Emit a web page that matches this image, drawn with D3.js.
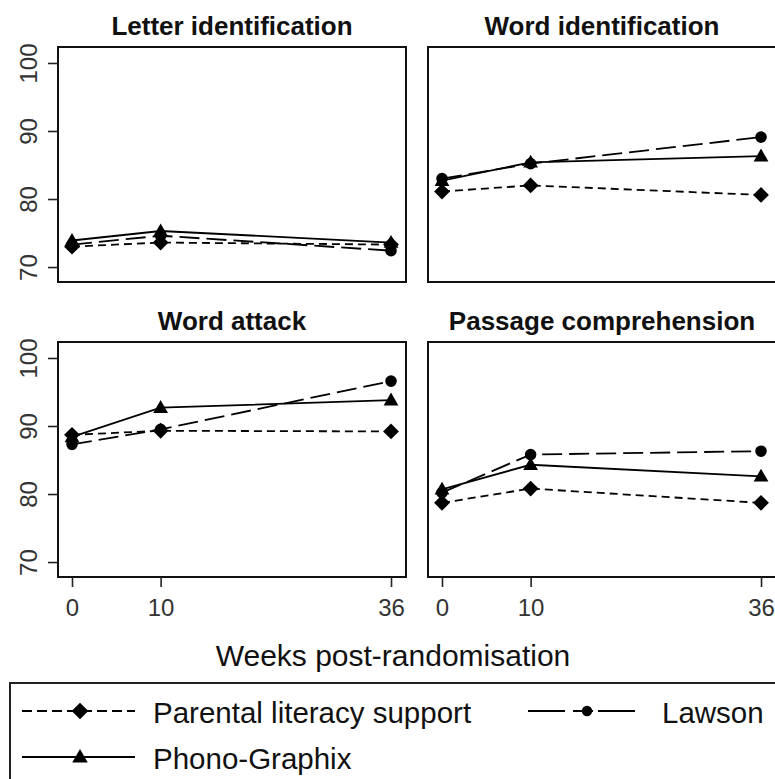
<!DOCTYPE html>
<html>
<head>
<meta charset="utf-8">
<script src="https://cdn.jsdelivr.net/npm/d3@7"></script>
<style>
  html, body { margin: 0; padding: 0; background: #fff; }
  svg { display: block; font-family: "Liberation Sans", Arial, Helvetica, sans-serif; }
</style>
</head>
<body>
<svg id="chart" width="775" height="779"></svg>
<script>
// ---------------- data ----------------
const weeks = [0, 10, 36];
const panelTitles = ["Letter identification", "Word identification", "Word attack", "Passage comprehension"];
const seriesNames = ["Parental literacy support", "Lawson", "Phono-Graphix"];
const yTicks = [70, 80, 90, 100];
const xTicks = [0, 10, 36];

const parental = [
  [73.0, 73.6, 73.3],   // Letter identification
  [81.1, 82.0, 80.6],   // Word identification
  [88.7, 89.3, 89.2],   // Word attack
  [78.7, 80.8, 78.7]    // Passage comprehension
];
const lawson = [
  [73.3, 74.6, 72.4],
  [83.0, 85.2, 89.1],
  [87.3, 89.5, 96.6],
  [80.2, 85.8, 86.3]
];
const phono = [
  [73.9, 75.3, 73.6],
  [82.7, 85.4, 86.3],
  [88.4, 92.7, 93.8],
  [80.7, 84.3, 82.6]
];

// ---------------- layout ----------------
const svg = d3.select("#chart");
const panelW = 348, panelH = 235;
const panels = [
  { left: 58,  top: 47,  yAxis: true,  xAxis: false },
  { left: 428, top: 47,  yAxis: false, xAxis: false },
  { left: 58,  top: 342, yAxis: true,  xAxis: true },
  { left: 428, top: 342, yAxis: false, xAxis: true }
];

const styles = [
  { name: seriesNames[0], data: parental, dash: "8,5",  symbol: "diamond" },
  { name: seriesNames[1], data: lawson,   dash: "20,7", symbol: "circle" },
  { name: seriesNames[2], data: phono,    dash: null,   symbol: "triangle" }
];

function drawSymbol(g, type, x, y, scale) {
  scale = scale || 1;
  if (type === "diamond") {
    g.append("path")
      .attr("d", d3.symbol(d3.symbolSquare, 125 * scale * scale)())
      .attr("transform", `translate(${x},${y}) rotate(45)`)
      .attr("fill", "#000");
  } else if (type === "circle") {
    g.append("path")
      .attr("d", d3.symbol(d3.symbolCircle, 105 * scale * scale)())
      .attr("transform", `translate(${x},${y})`)
      .attr("fill", "#000");
  } else {
    g.append("path")
      .attr("d", d3.symbol(d3.symbolTriangle, 95 * scale * scale)())
      .attr("transform", `translate(${x},${y + 1})`)
      .attr("fill", "#000");
  }
}

panels.forEach((p, i) => {
  const x = d3.scaleLinear().domain([-1.58, 37.69]).range([p.left, p.left + panelW]);
  const y = d3.scaleLinear().domain([67.8, 102.35]).range([p.top + panelH, p.top]);
  const g = svg.append("g");

  // title
  g.append("text")
    .attr("x", p.left + panelW / 2)
    .attr("y", p.top - 12)
    .attr("text-anchor", "middle")
    .attr("font-size", 26)
    .attr("font-weight", "bold")
    .attr("fill", "#111")
    .text(panelTitles[i]);

  // lines
  const line = d3.line().x((d, k) => x(weeks[k])).y(d => y(d));
  styles.forEach(s => {
    g.append("path")
      .datum(s.data[i])
      .attr("d", line)
      .attr("fill", "none")
      .attr("stroke", "#000")
      .attr("stroke-width", 1.8)
      .attr("stroke-dasharray", s.dash);
  });
  styles.forEach(s => {
    s.data[i].forEach((v, k) => drawSymbol(g, s.symbol, x(weeks[k]), y(v)));
  });

  // box
  g.append("rect")
    .attr("x", p.left).attr("y", p.top)
    .attr("width", panelW).attr("height", panelH)
    .attr("fill", "none").attr("stroke", "#111").attr("stroke-width", 2);

  // y axis
  if (p.yAxis) {
    const ya = g.append("g")
      .attr("transform", `translate(${p.left},0)`)
      .call(d3.axisLeft(y).tickValues(yTicks).tickSize(10).tickFormat(d3.format("d")));
    ya.select(".domain").remove();
    ya.selectAll(".tick line").attr("stroke", "#222").attr("stroke-width", 1.6);
    ya.selectAll(".tick text")
      .attr("x", null).attr("dy", null)
      .attr("transform", "translate(-21,0) rotate(-90)")
      .attr("text-anchor", "middle")
      .attr("font-size", 24)
      .attr("fill", "#333")
      .attr("font-family", "Liberation Sans, Arial, sans-serif");
  }
  // x axis
  if (p.xAxis) {
    const xa = g.append("g")
      .attr("transform", `translate(0,${p.top + panelH})`)
      .call(d3.axisBottom(x).tickValues(xTicks).tickSize(10).tickPadding(12).tickFormat(d3.format("d")));
    xa.select(".domain").remove();
    xa.selectAll(".tick line").attr("stroke", "#222").attr("stroke-width", 1.6);
    xa.selectAll(".tick text")
      .attr("font-size", 24)
      .attr("fill", "#333")
      .attr("font-family", "Liberation Sans, Arial, sans-serif");
  }
});

// x axis title
svg.append("text")
  .attr("x", 393).attr("y", 666)
  .attr("text-anchor", "middle")
  .attr("font-size", 30)
  .attr("fill", "#111")
  .text("Weeks post-randomisation");

// legend
const lg = svg.append("g");
lg.append("rect")
  .attr("x", 10).attr("y", 683).attr("width", 790).attr("height", 120)
  .attr("fill", "none").attr("stroke", "#222").attr("stroke-width", 2);

const legendItems = [
  { s: styles[0], x0: 22,  x1: 135, mx: 80,  ty: 723, cy: 711, tx: 153 },
  { s: styles[1], x0: 528, x1: 642, mx: 587, ty: 723, cy: 711, tx: 662 },
  { s: styles[2], x0: 22,  x1: 135, mx: 80,  ty: 769, cy: 757, tx: 153 }
];
legendItems.forEach(it => {
  lg.append("line")
    .attr("x1", it.x0).attr("x2", it.x1).attr("y1", it.cy).attr("y2", it.cy)
    .attr("stroke", "#000").attr("stroke-width", 2)
    .attr("stroke-dasharray", it.s.dash ? (it.s.symbol === "circle" ? "37,8,20,5" : "10,5") : null);
  drawSymbol(lg, it.s.symbol, it.mx, it.cy, it.s.symbol === "circle" ? 0.9 : 1.05);
  lg.append("text")
    .attr("x", it.tx).attr("y", it.ty)
    .attr("font-size", 29.5)
    .attr("fill", "#111")
    .text(it.s.name);
});
</script>
</body>
</html>
